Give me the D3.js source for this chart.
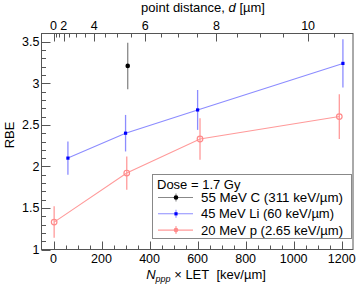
<!DOCTYPE html>
<html>
<head>
<meta charset="utf-8">
<script src="https://cdn.jsdelivr.net/npm/d3@7"></script>
<style>
  body { margin: 0; background: #fff; }
  svg { font-family: "Liberation Sans", Arial, sans-serif; }
</style>
</head>
<body>
<div id="chart"></div>
<script>
// RBE vs N_ppp x LET, three ion species at 1.7 Gy

const carbonX   = [309];
const carbonRBE = [3.21];
const carbonErr = [0.28];

const lithiumX   = [60, 300, 600, 1205];
const lithiumRBE = [2.10, 2.40, 2.68, 3.24];
const lithiumErr = [0.20, 0.22, 0.24, 0.29];

const protonX   = [2.65, 305, 610, 1190];
const protonRBE = [1.33, 1.92, 2.33, 2.60];
const protonErr = [0.19, 0.20, 0.25, 0.27];

const xTicks = [0, 200, 400, 600, 800, 1000, 1200];
const yTicks = [1, 1.5, 2, 2.5, 3, 3.5];
const dTicks = [0, 2, 4, 6, 8, 10];
const D_TO_X = 10.6; // N_ppp x LET = 10.6 * d^2

const width = 358, height = 287;
const margin = { top: 33.5, right: 5, bottom: 37.5, left: 41.5 };

const svg = d3.select('#chart').append('svg')
    .attr('width', width).attr('height', height);

const x = d3.scaleLinear().domain([-50, 1247]).range([margin.left, width - margin.right]);
const y = d3.scaleLinear().domain([1, 3.6]).range([height - margin.bottom, margin.top]);
const xd = d => x(D_TO_X * d * d);

const axisCol = '#555';
const x0 = margin.left, x1 = width - margin.right;
const y0 = height - margin.bottom, y1 = margin.top;

// frame
svg.append('rect')
    .attr('x', x0).attr('y', y1)
    .attr('width', x1 - x0).attr('height', y0 - y1)
    .attr('fill', 'none').attr('stroke', axisCol).attr('stroke-width', 1);

const ticks = svg.append('g').attr('stroke', axisCol).attr('stroke-width', 1);

// bottom ticks (inward)
d3.range(0, 1201, 50).forEach(v => {
    const major = v % 200 === 0;
    const px = Math.round(x(v)) + 0.5;
    ticks.append('line').attr('x1', px).attr('x2', px)
        .attr('y1', y0).attr('y2', y0 - (major ? 8 : 4));
});
// left ticks
d3.range(10, 36).map(i => i / 10).forEach(v => {
    const major = Math.abs(v * 2 - Math.round(v * 2)) < 1e-6;
    const py = Math.round(y(v)) + 0.5;
    ticks.append('line').attr('y1', py).attr('y2', py)
        .attr('x1', x0).attr('x2', x0 + (major ? 9 : 4.5));
});
// top ticks (point distance)
d3.range(0, 11, 0.5).forEach(d => {
    const major = d % 2 === 0;
    const px = Math.round(xd(d)) + 0.5;
    ticks.append('line').attr('x1', px).attr('x2', px)
        .attr('y1', y1).attr('y2', y1 + (major ? 8 : 4));
});

// tick labels
const tickFont = 12.5;
svg.append('g').selectAll('text').data(xTicks).join('text')
    .attr('x', d => x(d)).attr('y', y0 + 13)
    .attr('text-anchor', 'middle').attr('font-size', tickFont).text(d => d);
svg.append('g').selectAll('text').data(yTicks).join('text')
    .attr('x', x0 - 2).attr('y', d => y(d) + 4.3)
    .attr('text-anchor', 'end').attr('font-size', tickFont).text(d => d);
svg.append('g').selectAll('text').data(dTicks).join('text')
    .attr('x', d => xd(d)).attr('y', y1 - 4)
    .attr('text-anchor', 'middle').attr('font-size', tickFont).text(d => d);

// axis titles
const tTop = svg.append('text').attr('x', 203).attr('y', 12)
    .attr('text-anchor', 'middle').attr('font-size', 13);
tTop.append('tspan').text('point distance, ');
tTop.append('tspan').attr('font-style', 'italic').text('d');
tTop.append('tspan').text(' [µm]');

const tBot = svg.append('text').attr('x', 206).attr('y', 278.5)
    .attr('text-anchor', 'middle').attr('font-size', 13);
tBot.append('tspan').attr('font-style', 'italic').text('N');
tBot.append('tspan').attr('font-style', 'italic').attr('font-size', 9).attr('dy', 3).text('ppp');
tBot.append('tspan').attr('dy', -3).text(' × LET\u00a0\u00a0[kev/µm]');

svg.append('text')
    .attr('transform', `translate(14,135) rotate(-90)`)
    .attr('text-anchor', 'middle').attr('font-size', 13).text('RBE');

// series
const series = [
    { xs: carbonX, ys: carbonRBE, es: carbonErr, line: '#888', mark: '#000', shape: 'dot', label: '55 MeV C (311 keV/µm)', w: 142 },
    { xs: lithiumX, ys: lithiumRBE, es: lithiumErr, line: '#8c8cff', mark: '#0000ff', shape: 'square', label: '45 MeV Li (60 keV/µm)', w: 133 },
    { xs: protonX, ys: protonRBE, es: protonErr, line: '#ff9a9a', mark: '#ff8a8a', shape: 'ring', label: '20 MeV p (2.65 keV/µm)', w: 142 },
];

function drawMarker(g, shape, col, cx, cy) {
    if (shape === 'dot') {
        g.append('circle').attr('cx', cx).attr('cy', cy).attr('r', 2.3).attr('fill', col);
    } else if (shape === 'square') {
        g.append('rect').attr('x', cx - 1.6).attr('y', cy - 1.6)
            .attr('width', 3.2).attr('height', 3.2).attr('fill', col);
    } else {
        g.append('circle').attr('cx', cx).attr('cy', cy).attr('r', 2.8)
            .attr('fill', 'none').attr('stroke', col).attr('stroke-width', 1.2);
    }
}

series.forEach(s => {
    const pts = s.xs.map((v, i) => ({ x: v, y: s.ys[i], e: s.es[i] }));
    const g = svg.append('g');
    if (pts.length > 1) {
        g.append('path').datum(pts)
            .attr('fill', 'none').attr('stroke', s.line).attr('stroke-width', 1.1)
            .attr('d', d3.line().x(d => x(d.x)).y(d => y(d.y)));
    }
    pts.forEach(p => {
        g.append('line')
            .attr('x1', x(p.x)).attr('x2', x(p.x))
            .attr('y1', y(p.y - p.e)).attr('y2', y(p.y + p.e))
            .attr('stroke', s.line).attr('stroke-width', 1.3);
        drawMarker(g, s.shape, s.mark, x(p.x), y(p.y));
    });
});

// legend
const lg = svg.append('g');
lg.append('rect').attr('x', 152.5).attr('y', 174.5).attr('width', 199).attr('height', 64)
    .attr('fill', '#fff').attr('stroke', '#888').attr('stroke-width', 1);
lg.append('text').attr('x', 157).attr('y', 189).attr('font-size', 13).text('Dose = 1.7 Gy');
series.forEach((s, i) => {
    const cy = 197.5 + i * 16.3;
    lg.append('line').attr('x1', 158).attr('x2', 193).attr('y1', cy).attr('y2', cy)
        .attr('stroke', s.line).attr('stroke-width', 1.1);
    lg.append('line').attr('x1', 176).attr('x2', 176).attr('y1', cy - 4).attr('y2', cy + 4)
        .attr('stroke', s.line).attr('stroke-width', 1.1);
    drawMarker(lg, s.shape === 'ring' ? 'dot' : s.shape, s.mark, 176, cy);
    lg.append('text').attr('x', 201).attr('y', cy + 4.5).attr('font-size', 13)
        .attr('textLength', s.w).attr('lengthAdjust', 'spacingAndGlyphs').text(s.label);
});
</script>
</body>
</html>
